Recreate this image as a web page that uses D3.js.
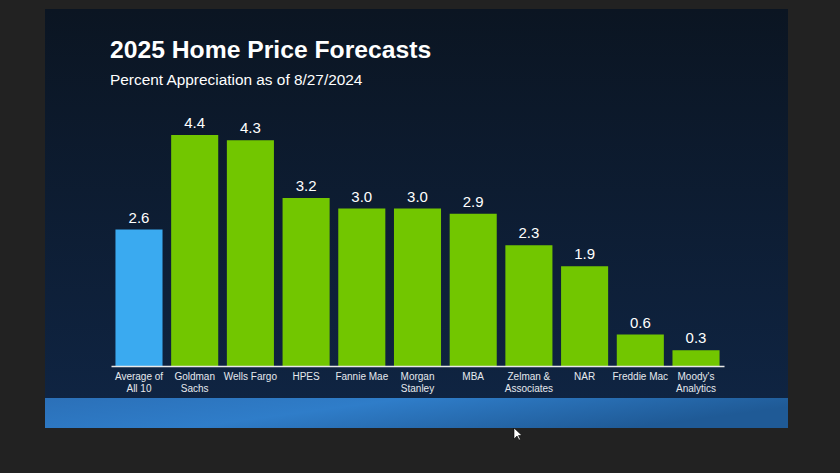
<!DOCTYPE html>
<html><head><meta charset="utf-8">
<script src="https://cdn.jsdelivr.net/npm/d3@7"></script>
<style>body{margin:0;background:#222222;overflow:hidden}svg{display:block}</style>
</head><body>
<svg id="c" width="840" height="473"></svg>
<script>
const categories = [["Average of","All 10"],["Goldman","Sachs"],["Wells Fargo"],["HPES"],["Fannie Mae"],["Morgan","Stanley"],["MBA"],["Zelman &","Associates"],["NAR"],["Freddie Mac"],["Moody's","Analytics"]];
const values = [2.6,4.4,4.3,3.2,3.0,3.0,2.9,2.3,1.9,0.6,0.3];
const valueLabels = ["2.6","4.4","4.3","3.2","3.0","3.0","2.9","2.3","1.9","0.6","0.3"];
const title = "2025 Home Price Forecasts";
const subtitle = "Percent Appreciation as of 8/27/2024";

const svg = d3.select("#c");
const defs = svg.append("defs");
const bg = defs.append("linearGradient").attr("id","bg").attr("x1",0).attr("y1",0).attr("x2",0).attr("y2",1);
bg.append("stop").attr("offset","0%").attr("stop-color","#0b1522");
bg.append("stop").attr("offset","100%").attr("stop-color","#0f2442");
const band = defs.append("linearGradient").attr("id","band").attr("x1",0).attr("y1",0).attr("x2",1).attr("y2",0.3);
band.append("stop").attr("offset","0%").attr("stop-color","#2b70b8");
band.append("stop").attr("offset","45%").attr("stop-color","#2f7dc9");
band.append("stop").attr("offset","100%").attr("stop-color","#1f5a96");

svg.append("rect").attr("x",45).attr("y",9).attr("width",743).attr("height",390).attr("fill","url(#bg)");
svg.append("rect").attr("x",45).attr("y",398).attr("width",743).attr("height",30).attr("fill","url(#band)");

svg.append("text").attr("x",110).attr("y",58).text(title)
  .attr("fill","#ffffff").attr("font-family","Liberation Sans, Arial, sans-serif").attr("font-weight","bold").attr("font-size",24.7);
svg.append("text").attr("x",110).attr("y",85).text(subtitle)
  .attr("fill","#ffffff").attr("font-family","Liberation Sans, Arial, sans-serif").attr("font-size",15.4);

const idx = values.map((d,i)=>i);
const x = d3.scaleBand().domain(idx).range([111,724]).paddingInner(0.155).paddingOuter(0.08);
const y = d3.scaleLinear().domain([0,4.4]).range([366,135]);

svg.append("g").selectAll("rect").data(idx).join("rect")
  .attr("x",i=>x(i)).attr("width",x.bandwidth())
  .attr("y",i=>y(values[i])).attr("height",i=>y(0)-y(values[i]))
  .attr("fill",i=>i===0?"#3aaaf0":"#72c600");

svg.append("g").selectAll("text").data(idx).join("text")
  .attr("x",i=>x(i)+x.bandwidth()/2).attr("y",i=>y(values[i])-7)
  .attr("text-anchor","middle").attr("fill","#ffffff")
  .attr("font-family","Liberation Sans, Arial, sans-serif").attr("font-size",15)
  .text(i=>valueLabels[i]);

const axis = d3.axisBottom(x).tickSize(0).tickFormat("");
const ag = svg.append("g").attr("transform","translate(0,366)").call(axis);
ag.select(".domain").attr("stroke","#e8e8e8").attr("stroke-width",1.5);

const lab = svg.append("g").selectAll("text").data(idx).join("text")
  .attr("text-anchor","middle").attr("fill","#e6e9ee")
  .attr("font-family","Liberation Sans, Arial, sans-serif").attr("font-size",10);
lab.each(function(i){
  const t = d3.select(this);
  categories[i].forEach((s,k)=>{
    t.append("tspan").attr("x",x(i)+x.bandwidth()/2).attr("y",380+k*11.5).text(s);
  });
});

// cursor
svg.append("path").attr("d","M514,428 L514,439 L517,436 L519,440 L520.5,439.5 L518.5,435.5 L522,435.5 Z")
  .attr("fill","#ffffff").attr("stroke","#000").attr("stroke-width",0.6);
</script>
</body></html>
